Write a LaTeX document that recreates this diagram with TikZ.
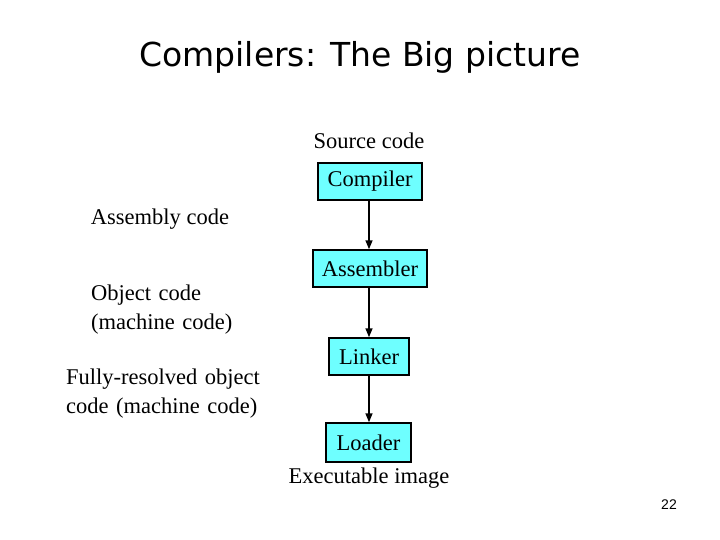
\documentclass[tikz,border=0pt]{standalone}
\usepackage{fontspec}
\setmainfont{Liberation Serif}
\newfontfamily\titlefont{DejaVu Sans}
\newfontfamily\numfont{Liberation Sans}
\usetikzlibrary{arrows.meta}
\definecolor{boxcyan}{RGB}{110,255,255}
\begin{document}
\begin{tikzpicture}[x=1pt,y=-1pt,
  box/.style={draw=black,line width=1.5pt,fill=boxcyan,font=\fontsize{22.5}{28}\selectfont,inner sep=0pt},
  lbl/.style={font=\fontsize{22.5}{28.5}\selectfont,align=left,inner sep=0pt},
  arr/.style={line width=1.5pt,-{Triangle[length=9pt,width=7pt]}}]
\useasboundingbox (0,0) rectangle (720,540);
\node[font=\titlefont\fontsize{33}{38}\selectfont] (title) at (360,57) {Compilers: The Big picture};
\node[lbl] (src) at (369,141) {Source code};
\node[box,minimum width=104pt,minimum height=37pt] (comp) at (370,181.5) {Compiler};
\node[box,minimum width=114pt,minimum height=37pt] (asm) at (370,268.5) {Assembler};
\node[box,minimum width=80pt,minimum height=37pt] (link) at (369,356.5) {Linker};
\node[box,minimum width=85pt,minimum height=39pt] (load) at (368.5,442.5) {Loader};
\node[lbl] (exe) at (369,478) {Executable image};
\node[lbl] (ac) at (160,219) {Assembly code};
\node[lbl,anchor=north west,text width=190pt] (oc) at (91,285) {Object code\\(machine code)};
\node[lbl,anchor=north west,text width=240pt] (fr) at (66,369) {Fully-resolved object\\code (machine code)};
\node[font=\numfont\fontsize{14}{16}\selectfont] (num) at (669,505) {22};
\draw[arr] ([xshift=-1pt]comp.south) -- ([xshift=-1pt]comp.south |- asm.north);
\draw[arr] (asm.south -| link.south) -- (link.north);
\draw[arr] (link.south) -- (link.south |- load.north);
\end{tikzpicture}
\end{document}
